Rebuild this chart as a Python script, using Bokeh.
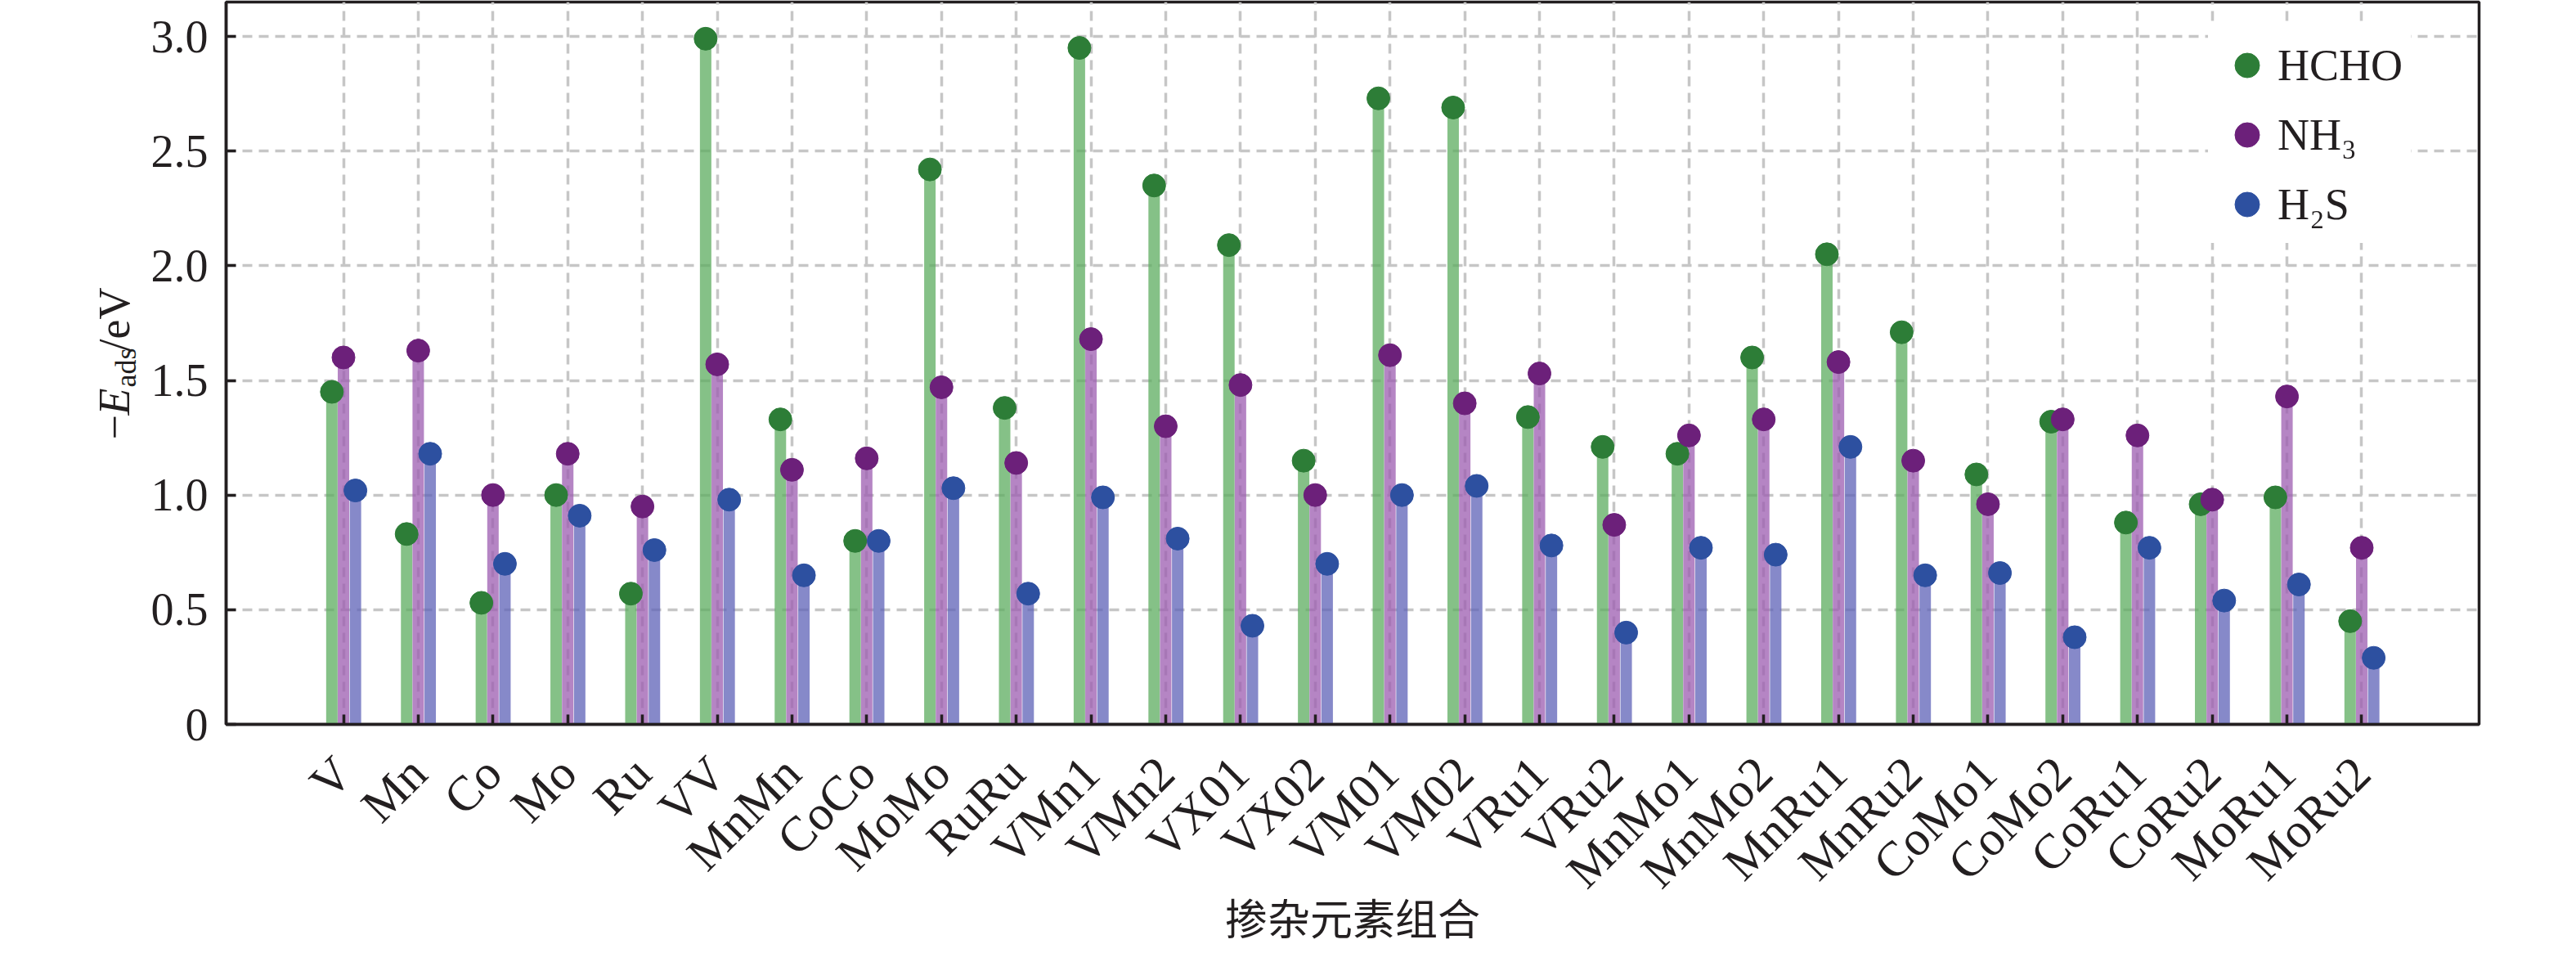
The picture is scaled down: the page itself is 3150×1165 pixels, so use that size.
import math
from bokeh.plotting import figure
from bokeh.layouts import row
from bokeh.models import (Range1d, FixedTicker, ColumnDataSource, Legend,
                          LegendItem, Label, PrintfTickFormatter)
from bokeh.transform import dodge
from bokeh.embed import file_html
from bokeh.resources import INLINE

# ---------------- data ----------------
categories = ["V", "Mn", "Co", "Mo", "Ru", "VV", "MnMn", "CoCo", "MoMo", "RuRu",
              "VMn1", "VMn2", "VX01", "VX02", "VM01", "VM02", "VRu1", "VRu2",
              "MnMo1", "MnMo2", "MnRu1", "MnRu2", "CoMo1", "CoMo2", "CoRu1",
              "CoRu2", "MoRu1", "MoRu2"]
hcho = [1.45, 0.83, 0.53, 1.00, 0.57, 2.99, 1.33, 0.80, 2.42, 1.38,
        2.95, 2.35, 2.09, 1.15, 2.73, 2.69, 1.34, 1.21,
        1.18, 1.60, 2.05, 1.71, 1.09, 1.32, 0.88,
        0.96, 0.99, 0.45]
nh3 = [1.60, 1.63, 1.00, 1.18, 0.95, 1.57, 1.11, 1.16, 1.47, 1.14,
       1.68, 1.30, 1.48, 1.00, 1.61, 1.40, 1.53, 0.87,
       1.26, 1.33, 1.58, 1.15, 0.96, 1.33, 1.26,
       0.98, 1.43, 0.77]
h2s = [1.02, 1.18, 0.70, 0.91, 0.76, 0.98, 0.65, 0.80, 1.03, 0.57,
       0.99, 0.81, 0.43, 0.70, 1.00, 1.04, 0.78, 0.40,
       0.77, 0.74, 1.21, 0.65, 0.66, 0.38, 0.77,
       0.54, 0.61, 0.29]
series_names = ["HCHO", "NH\u2083", "H\u2082S"]
y_ticks = [0, 0.5, 1.0, 1.5, 2.0, 2.5, 3.0]
x_title = "掺杂元素组合"

# ---------------- styling / geometry ----------------
TXT = "#231f20"
SERIF = "Liberation Serif"
stem_colors = ["#5cac5f", "#9c5cb0", "#5e62b7"]
dot_colors = ["#2d7d37", "#6c207a", "#2d50a0"]
offsets = [-0.155, 0.0, 0.16]
fields = ["hcho", "nh3", "h2s"]

H = 1165
FRAME_H = 883
TOP = 2
BOTTOM = H - TOP - FRAME_H
LAB_W = 180
MAIN_LEFT = 96
MAIN_W = 2956

n = len(categories)
idx = list(range(n))
src = ColumnDataSource(dict(x=idx, hcho=hcho, nh3=nh3, h2s=h2s))

p = figure(width=MAIN_W, height=H,
           x_range=Range1d(-1.57, n - 1 + 1.57),
           y_range=Range1d(0, 3.15),
           output_backend="svg", toolbar_location=None,
           min_border_left=MAIN_LEFT, min_border_right=105,
           min_border_top=TOP, min_border_bottom=BOTTOM)

p.background_fill_color = "white"
p.border_fill_color = "white"
p.outline_line_color = TXT
p.outline_line_width = 3.5
p.outline_line_alpha = 1.0

# axes
p.xaxis.ticker = FixedTicker(ticks=idx)
p.xaxis.major_label_overrides = {i: c for i, c in enumerate(categories)}
p.xaxis.major_label_orientation = math.pi / 4
p.xaxis.major_label_standoff = 50
p.yaxis.ticker = FixedTicker(ticks=y_ticks)
p.yaxis.formatter = PrintfTickFormatter(format="%.1f")
p.yaxis.major_label_overrides = {0: "0"}
p.yaxis.major_label_standoff = 22

for ax in (p.xaxis, p.yaxis):
    ax.axis_line_color = TXT
    ax.axis_line_width = 3.5
    ax.major_tick_line_color = TXT
    ax.major_tick_line_width = 3.5
    ax.major_tick_in = 12
    ax.major_tick_out = 0
    ax.minor_tick_in = 0
    ax.minor_tick_out = 0
    ax.major_label_text_font = SERIF
    ax.major_label_text_color = TXT
p.xaxis.major_label_text_font_size = "60px"
p.yaxis.major_label_text_font_size = "56px"

p.xaxis.axis_label = x_title
p.xaxis.axis_label_text_font = "Noto Sans CJK SC"
p.xaxis.axis_label_text_font_size = "52px"
p.xaxis.axis_label_text_font_style = "normal"
p.xaxis.axis_label_text_color = TXT
p.xaxis.axis_label_standoff = -41

# grid
for g in (p.xgrid, p.ygrid):
    g.grid_line_color = "#c6c6c6"
    g.grid_line_width = 3.5
    g.grid_line_dash = "12 8"

# stems
for f, off, c in zip(fields, offsets, stem_colors):
    p.segment(x0=dodge("x", off), y0=0, x1=dodge("x", off), y1=f,
              line_width=14, line_color=c, line_alpha=0.75,
              line_cap="butt", source=src)

# dots
dot_renderers = []
for f, off, c in zip(fields, offsets, dot_colors):
    r = p.scatter(x=dodge("x", off), y=f, size=28, marker="circle",
                  fill_color=c, line_color=c, source=src)
    dot_renderers.append(r)

legend = Legend(items=[LegendItem(label=nm, renderers=[r])
                       for nm, r in zip(series_names, dot_renderers)],
                location=(2424, 588))
legend.glyph_width = 75
legend.glyph_height = 75
legend.label_standoff = 0
legend.spacing = 10
legend.padding = 10
legend.label_text_font = SERIF
legend.label_text_font_size = "54px"
legend.label_text_color = TXT
legend.background_fill_color = "white"
legend.background_fill_alpha = 1.0
legend.border_line_alpha = 0
p.add_layout(legend)

# ---------------- y axis title panel: −E_ads/eV ----------------
# its frame lines up with the main frame, so 1 unit = 1 px measured
# up from the x axis line
lab = figure(width=LAB_W, height=H, x_range=Range1d(0, LAB_W),
             y_range=Range1d(0, FRAME_H), x_axis_type=None, y_axis_type=None,
             output_backend="svg", toolbar_location=None,
             min_border_left=0, min_border_right=0,
             min_border_top=TOP, min_border_bottom=BOTTOM)
lab.outline_line_color = None
lab.background_fill_color = "white"
lab.border_fill_color = "white"

# (text, style, size, anchor x, start y)
ylabel_parts = [
    ("\u2212", "normal", "54px", 139, 348),
    ("E", "italic", "54px", 139, 378),
    ("ads", "normal", "36px", 153, 412),
    ("/eV", "normal", "54px", 139, 456),
]
for txt, style, size, bx, sy in ylabel_parts:
    lab.add_layout(Label(x=bx, y=sy, text=txt, angle=math.pi / 2,
                         text_align="left", text_baseline="alphabetic",
                         text_font=SERIF, text_font_style=style,
                         text_font_size=size, text_color=TXT))

layout = row(lab, p, spacing=0)
open("out.html", "w").write(file_html(layout, INLINE))
